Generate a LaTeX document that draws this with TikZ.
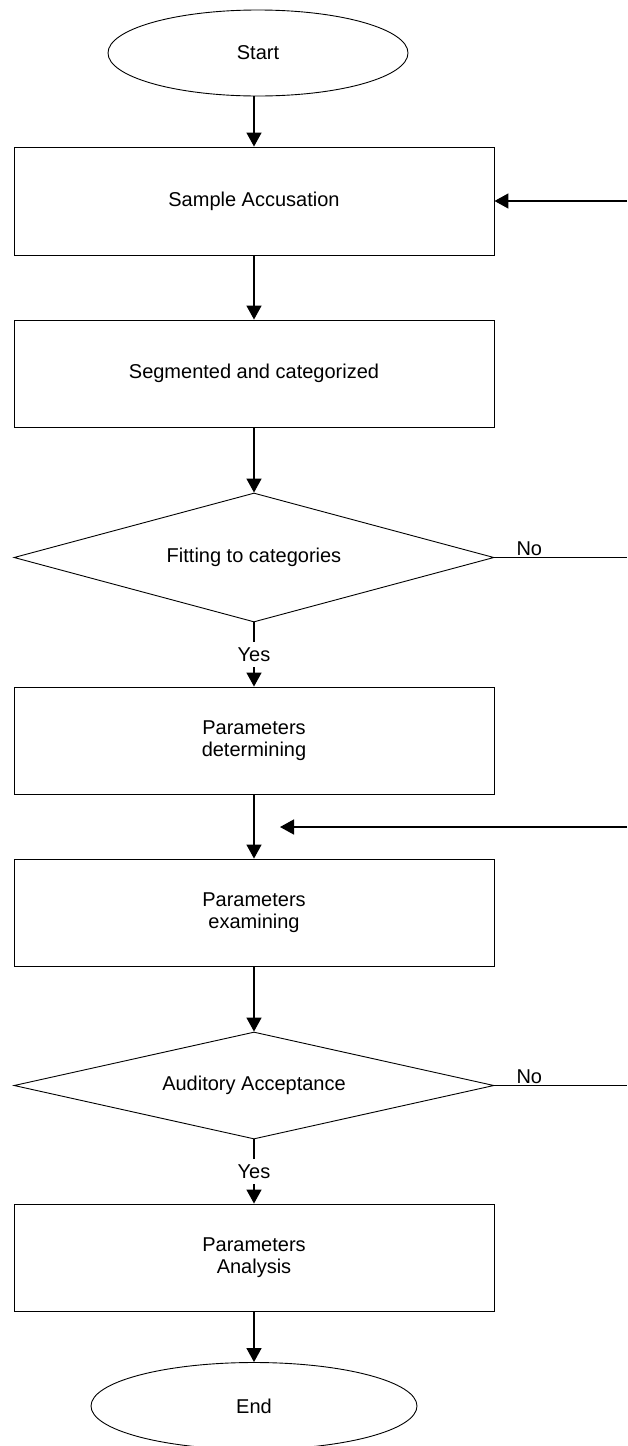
\documentclass[tikz,border=0pt]{standalone}
\usepackage{fontspec}
\setmainfont{Liberation Sans}
\usetikzlibrary{shapes.geometric,arrows.meta}
\begin{document}
\begin{tikzpicture}[x=1pt,y=-1pt,
  every node/.style={font=\fontsize{20}{22}\selectfont},
  term/.style={draw,ellipse,line width=0.9pt,inner sep=0pt},
  proc/.style={draw,rectangle,line width=0.9pt,minimum width=480pt,inner sep=0pt,align=center},
  decis/.style={draw,diamond,line width=0.9pt,minimum width=480pt,inner sep=0pt},
  conn/.style={line width=1.5pt,-{Triangle[length=14pt,width=15pt]}},
  plain/.style={line width=1.5pt},
  lbl/.style={fill=white,inner xsep=2pt,inner ysep=6pt}]
\useasboundingbox (0,0) rectangle (627,1446);

\node[term,minimum width=300pt,minimum height=86pt] (start) at (258,53) {Start};
\node[proc,minimum height=108pt] (b1) at (254,201) {Sample Accusation};
\node[proc,minimum height=107pt] (b2) at (254,373.5) {Segmented and categorized};
\node[decis,minimum height=129pt,shape aspect=3.7] (d1) at (254,557.5) {Fitting to categories};
\node[proc,minimum height=107pt] (b3) at (254,740.5) {Parameters\\determining};
\node[proc,minimum height=107pt] (b4) at (254,912.5) {Parameters\\examining};
\node[decis,minimum height=107pt,shape aspect=4.5] (d2) at (254,1085.5) {Auditory Acceptance};
\node[proc,minimum height=107pt] (b5) at (254,1257.5) {Parameters\\Analysis};
\node[term,minimum width=326pt,minimum height=87pt] (end) at (254,1406) {End};

\coordinate (r1) at (627,201);
\coordinate (r2) at (627,557.5);
\coordinate (r3s) at (627,827);
\coordinate (r3e) at (280,827);
\coordinate (r4) at (627,1085.5);

\draw[conn] (start.south -| b1.north) -- (b1.north);
\draw[conn] (b1) -- (b2);
\draw[conn] (b2) -- (d1.north);
\draw[conn] (d1.south) -- node[lbl] (y1) {Yes} (b3.north);
\draw[conn] (b3) -- (b4);
\draw[conn] (b4) -- (d2.north);
\draw[conn] (d2.south) -- node[lbl] (y2) {Yes} (b5.north);
\draw[conn] (b5) -- (end);

\draw[conn] (r1) -- (b1.east);
\draw[plain] (d1.east) -- (r2);
\node[anchor=base west] (no1) at (513,555) {No};
\draw[conn] (r3s) -- (r3e);
\draw[plain] (d2.east) -- (r4);
\node[anchor=base west] (no2) at (513,1083) {No};
\end{tikzpicture}
\end{document}
